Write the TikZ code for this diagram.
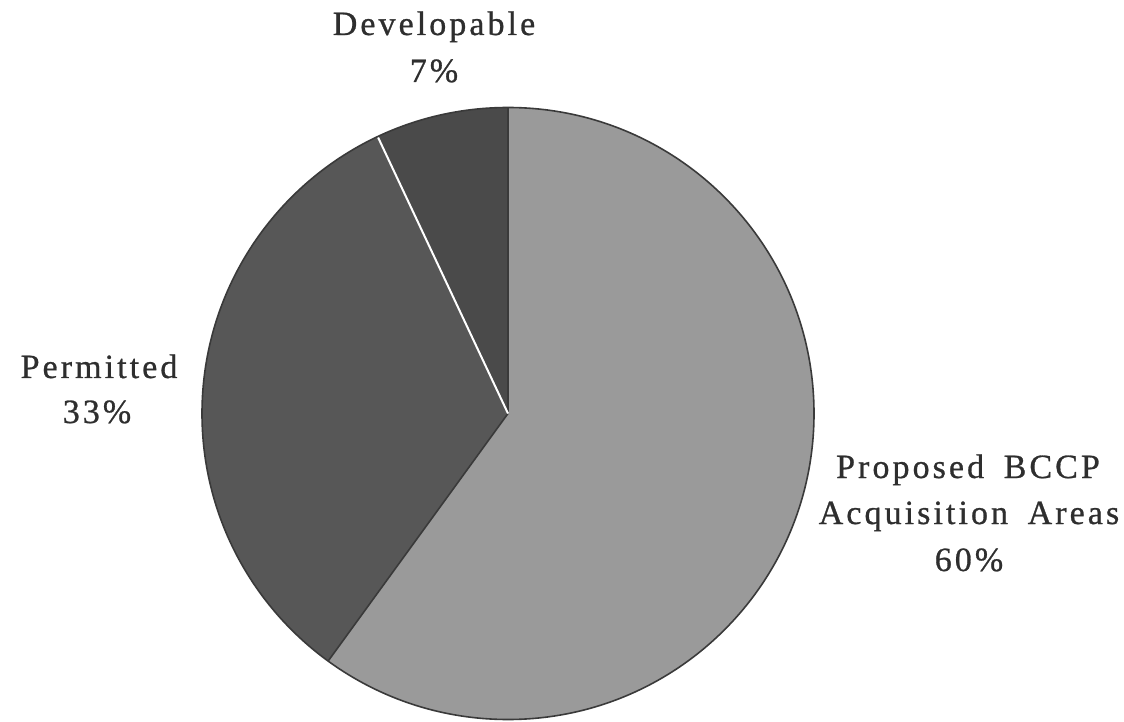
\documentclass[tikz,border=0pt]{standalone}
\usepackage{fontspec}
\usetikzlibrary{calc}
\newfontfamily\lblfont{Liberation Serif}[LetterSpace=9,WordSpace=1.7,FakeBold=0.8]
\definecolor{lightslice}{HTML}{9A9A9A}
\definecolor{permslice}{HTML}{575757}
\definecolor{devslice}{HTML}{4A4A4A}
\definecolor{edge}{HTML}{3A3A3A}
\definecolor{inktext}{HTML}{2E2E2E}
\tikzset{
  lbl/.style={anchor=base, inner sep=0pt, text=inktext, font=\lblfont\fontsize{34}{40}\selectfont},
}
\begin{document}
\begin{tikzpicture}[x=1pt,y=1pt]
\useasboundingbox (0,0) rectangle (1124,721);
\def\R{306}
\coordinate (c) at (508,307.5);
% slices
\fill[lightslice] (c) -- ++(234:\R) arc[start angle=234, end angle=450, radius=\R] -- cycle;
\fill[permslice] (c) -- ++(115.2:\R) arc[start angle=115.2, end angle=234, radius=\R] -- cycle;
\fill[devslice] (c) -- ++(90:\R) arc[start angle=90, end angle=115.2, radius=\R] -- cycle;
% outline and separators
\draw[edge, line width=1.6pt] (c) circle[radius=\R];
\draw[edge, line width=1.6pt] (c) -- ++(90:\R);
\draw[edge, line width=1.6pt] (c) -- ++(234:\R);
\draw[white, line width=2pt] (c) -- ++(115.2:\R-1);
% labels
\node[lbl] (devname) at (434,686) {Developable};
\node[lbl] (devpct) at (434,639) {7\%};
\node[lbl] (permname) at (99,343) {Permitted};
\node[lbl] (permpct) at (97,298) {33\%};
\node[lbl] (propname) at (968,243) {Proposed BCCP};
\node[lbl] (propname2) at (969,197) {Acquisition Areas};
\node[lbl] (proppct) at (969,150) {60\%};
\end{tikzpicture}
\end{document}
